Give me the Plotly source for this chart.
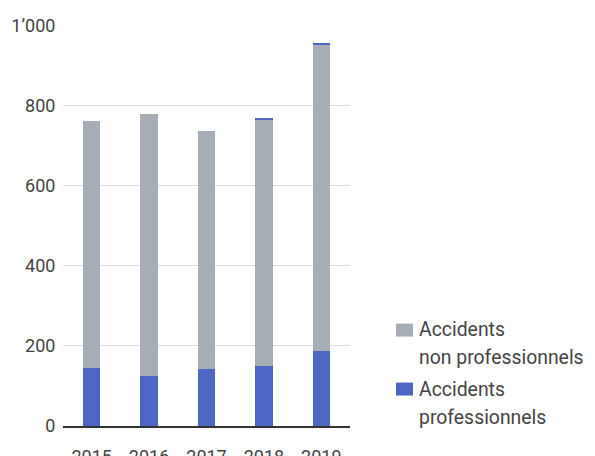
import plotly.graph_objects as go

years = ["2015", "2016", "2017", "2018", "2019"]
professionnels = [146, 126, 143, 151, 188]
non_professionnels = [615, 652, 593, 615, 764]
autres = [0, 0, 0, 2, 2]
legend_labels = [["Accidents", "non professionnels"], ["Accidents", "professionnels"]]

BLUE = "#4F67C4"
GRAY = "#A6ADB4"
TXT = "#444444"

OFF = 8  # page body offset in the browser
# plot area in screen pixels: x 63..350, y 25..426.5
SL, ST, SR, SB = 63.0, 25.0, 350.0, 426.5
W, H = SR - SL, SB - ST

fig = go.Figure()
fig.add_trace(go.Bar(x=years, y=professionnels, name="Accidents professionnels",
                     showlegend=False, marker=dict(color=BLUE, line=dict(width=0))))
fig.add_trace(go.Bar(x=years, y=non_professionnels, name="Accidents non professionnels",
                     showlegend=False, marker=dict(color=GRAY, line=dict(width=0))))
fig.add_trace(go.Bar(x=years, y=autres, name="autres", showlegend=False,
                     marker=dict(color=BLUE, line=dict(width=0))))

def px(x):
    return (x - SL) / W
def py(y):
    return (SB - y) / H

legend_colors = [GRAY, BLUE]
square_tops = [324, 383]
line_centers = [[329.5, 357.5], [389.5, 417.5]]
for lab, col, st, lc in zip(legend_labels, legend_colors, square_tops, line_centers):
    fig.add_shape(type="rect", xref="paper", yref="paper",
                  x0=px(396), x1=px(413), y0=py(st + 13), y1=py(st),
                  fillcolor=col, line=dict(width=0))
    for text, c in zip(lab, lc):
        fig.add_annotation(xref="paper", yref="paper", x=px(417), y=py(c),
                           xanchor="left", yanchor="middle", text=text,
                           showarrow=False, font=dict(size=19.4, color=TXT))

fig.update_layout(
    width=595, height=456,
    barmode="stack", bargap=0.70,
    plot_bgcolor="white", paper_bgcolor="white",
    separators=".\u2019",
    font=dict(family="Roboto", size=18, color=TXT),
    margin=dict(l=SL - OFF, r=595 - (SR - OFF), t=ST - OFF, b=456 - (SB - OFF),
                autoexpand=False),
    showlegend=False,
    hovermode=False,
)
fig.update_xaxes(showline=True, linecolor="#333333", linewidth=2, automargin=False,
                 ticks="outside", ticklen=13, tickcolor="rgba(0,0,0,0)",
                 tickfont=dict(size=18, color=TXT))
fig.update_yaxes(range=[0, 1001], tickvals=[0, 200, 400, 600, 800, 1000], automargin=False,
                 tickformat=",", showgrid=True, gridcolor="#DDDDDD", gridwidth=1,
                 zeroline=False, ticks="outside", ticklen=3,
                 tickcolor="rgba(0,0,0,0)", tickfont=dict(size=18, color=TXT))

fig.write_html("out.html")
